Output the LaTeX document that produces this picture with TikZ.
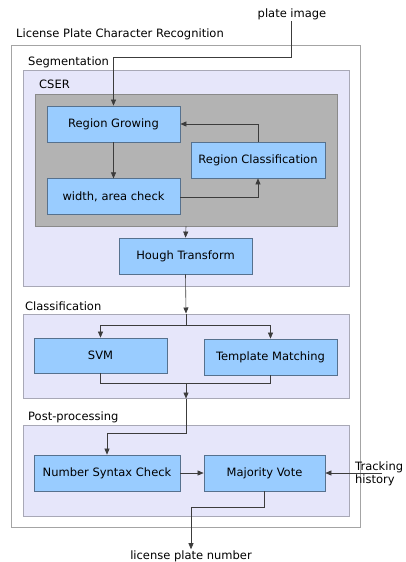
\documentclass[tikz,border=0pt]{standalone}
\usepackage{fontspec}
\setmainfont{DejaVu Sans}
\usepackage{xcolor}
\usepackage{tikz}
\usetikzlibrary{positioning, arrows.meta}
\definecolor{stepblue}{HTML}{99CCFF}
\definecolor{stepedge}{HTML}{56718E}
\definecolor{lavender}{HTML}{E6E6FA}
\definecolor{lavenderedge}{HTML}{A8A8B6}
\definecolor{cserfill}{HTML}{B3B3B3}
\definecolor{cseredge}{HTML}{8A8A8A}
\definecolor{frame}{HTML}{A4A4A4}
\definecolor{wire}{HTML}{3C3C3C}
\tikzset{
  stepbox/.style={draw=stepedge, line width=0.8pt, fill=stepblue, align=center, font=\fontsize{11.5}{13}\selectfont, minimum height=36pt, inner sep=2pt},
  cluster/.style={draw=lavenderedge, line width=1pt, fill=lavender, inner sep=0pt},
  csercluster/.style={draw=cseredge, line width=0.8pt, fill=cserfill, inner sep=0pt},
  outerframe/.style={draw=frame, line width=0.8pt, fill=white, inner sep=0pt},
  caption/.style={font=\fontsize{11.5}{13}\selectfont, anchor=west, inner sep=0pt},
  plain/.style={font=\fontsize{11.5}{13}\selectfont, align=center, inner sep=1pt},
  arrow/.style={-{Triangle[length=6pt, width=5pt]}, line width=0.6pt, draw=wire},
  wireline/.style={line width=0.6pt, draw=wire},
}

\begin{document}
\begin{tikzpicture}[x=1pt, y=-1pt]
  \useasboundingbox (0,0) rectangle (406,562);

  \node[outerframe, minimum width=349pt, minimum height=482pt] (lpcr) at (185.5,286) {};
  \node[caption] (lpcrlabel) at (16,34) {License Plate Character Recognition};

  \node[cluster, minimum width=326pt, minimum height=216pt] (seg) at (186,178) {};
  \node[caption] (seglabel) at (28,62) {Segmentation};
  \node[csercluster, minimum width=302pt, minimum height=132pt] (cser) at (186,160) {};
  \node[caption] (cserlabel) at (39,84) {CSER};

  \node[cluster, minimum width=326pt, minimum height=84pt] (cls) at (186,356) {};
  \node[caption] (clslabel) at (25,306) {Classification};

  \node[cluster, minimum width=326pt, minimum height=91pt] (post) at (186,470.5) {};
  \node[caption] (postlabel) at (28,417) {Post-processing};

  \node[stepbox, minimum width=133pt] (grow) at (113.5,124) {Region Growing};
  \node[stepbox, minimum width=133pt, below=36pt of grow] (check) {width, area check};
  \node[stepbox, minimum width=134pt] (classify) at (258,160) {Region Classification};
  \node[stepbox, minimum width=133pt] (hough) at (185.5,256) {Hough Transform};

  \node[stepbox, minimum width=133pt, minimum height=35pt] (svm) at (100.5,355.5) {SVM};
  \node[stepbox, minimum width=133pt] (tmatch) at (270.5,357) {Template Matching};

  \node[stepbox, minimum width=146pt] (syntax) at (107,473) {Number Syntax Check};
  \node[stepbox, minimum width=121pt] (vote) at (264.5,473) {Majority Vote};

  \node[plain] (plate) at (292,14) {plate image};
  \node[plain, align=left, anchor=west] (track) at (354,474) {Tracking\\history};
  \node[plain] (plateno) at (191,556) {license plate number};

  \coordinate (platein) at (291,57);
  \coordinate (split) at (186,325);
  \coordinate (merge) at (186,383);
  \coordinate (postin) at (186,433);
  \coordinate (trackin) at (382,473);
  \coordinate (voteout) at (191,507);

  \draw[arrow] (plate.south -| platein) -- (platein) -| (grow.north);
  \draw[arrow] (grow) -- (check);
  \draw[arrow] (check.east) -| (classify.south);
  \draw[arrow] (classify.north) |- (grow.east);
  \draw[arrow] (cser.south) -- (hough.north);
  \draw[arrow] (hough.south) -- (cls.north);
  \draw[wireline] (cls.north) -- (split);
  \draw[arrow] (split) -| (svm.north);
  \draw[arrow] (split) -| (tmatch.north);
  \draw[wireline] (svm.south) |- (merge);
  \draw[wireline] (tmatch.south) |- (merge);
  \draw[arrow] (merge) -- (cls.south);
  \draw[arrow] (cls.south) -- (postin) -| (syntax.north);
  \draw[arrow] (syntax) -- (vote);
  \draw[arrow] (trackin) -- (vote.east);
  \draw[arrow] (vote.south) |- (voteout) -- (plateno.north);
\end{tikzpicture}
\end{document}
